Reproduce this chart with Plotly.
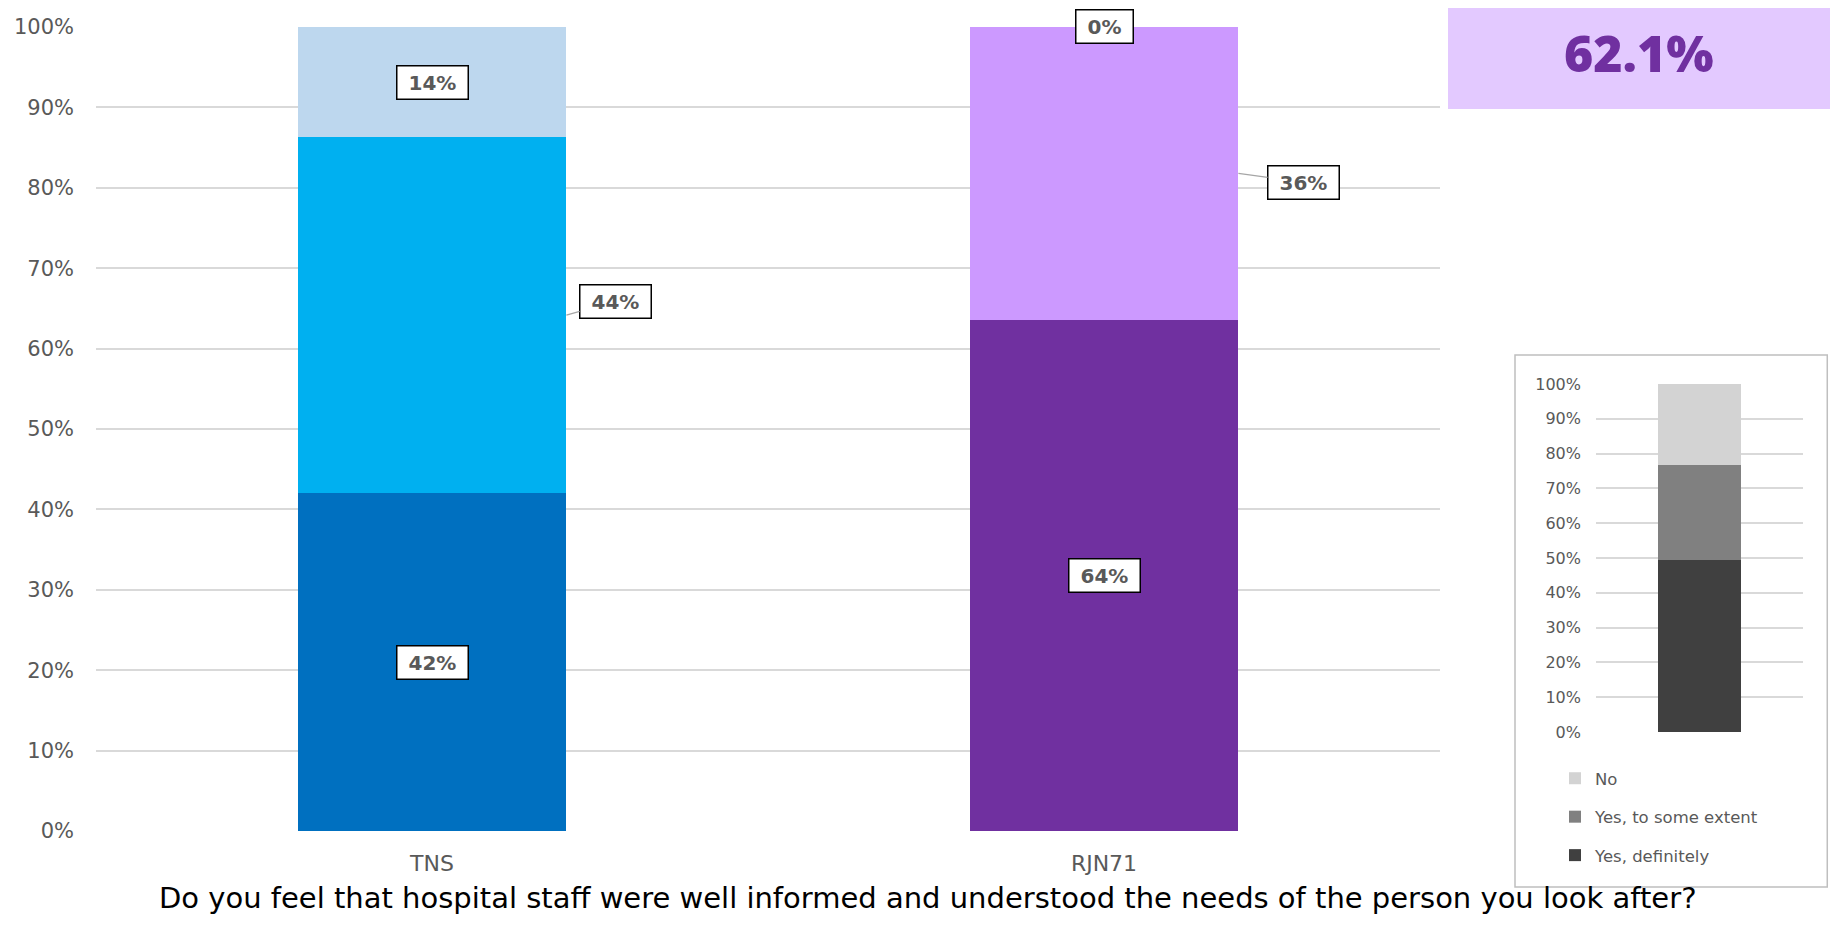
import plotly.graph_objects as go

# ---------------- data ----------------
categories = ["TNS", "RJN71"]
levels = ["Yes, definitely", "Yes, to some extent", "No"]
yes_definitely = [42.0, 63.6]
yes_some_extent = [44.3, 36.4]
no_values = [13.7, 0.0]
main_colors = {
    "Yes, definitely": ["#0070C0", "#7030A0"],
    "Yes, to some extent": ["#00B0F0", "#CC99FF"],
    "No": ["#BDD7EE", "#CC99FF"],
}
overall_values = [49.3, 27.4, 23.3]
overall_colors = ["#404040", "#808080", "#D3D3D3"]
headline = "62.1%"
question = "Do you feel that hospital staff were well informed and understood the needs of the person you look after?"
tick_vals = list(range(0, 101, 10))
tick_text = [f"{v}%" for v in tick_vals]

FONT = "DejaVu Sans"
OFF = 8                      # page body margin
W, H = 1838 - 2 * OFF, 925 - 2 * OFF


def px(x):
    return (x - OFF) / W


def py(y):
    return 1 - (y - OFF) / H


series = {"Yes, definitely": yes_definitely, "Yes, to some extent": yes_some_extent, "No": no_values}
xpos = list(range(len(categories)))

fig = go.Figure()
for lvl in levels:
    fig.add_trace(go.Bar(
        x=xpos, y=series[lvl], width=0.4,
        marker=dict(color=main_colors[lvl], line=dict(width=0)),
        showlegend=False, hoverinfo="skip", xaxis="x", yaxis="y",
    ))

n = len(levels)
for k, (lvl, v, c) in enumerate(zip(levels, overall_values, overall_colors)):
    fig.add_trace(go.Bar(
        x=[0], y=[v], width=0.40, name=lvl, legendgroup=lvl, legendrank=n - k,
        marker=dict(color=c, line=dict(width=0)),
        showlegend=True, hoverinfo="skip", xaxis="x2", yaxis="y2",
    ))

# ---------------- labels ----------------
label_font = dict(family=FONT, size=20, color="#595959", weight="bold")
leader = {0: (49, -14), 1: (65, 9)}
annotations = []
for i, cat in enumerate(categories):
    base = 0.0
    for lvl in levels:
        v = series[lvl][i]
        mid = base + v / 2
        txt = f"&nbsp;{round(v):.0f}%&nbsp;"
        common = dict(xref="x", yref="y", text=txt, font=label_font,
                      bgcolor="white", bordercolor="black", borderwidth=1.5, borderpad=4)
        if lvl == "Yes, to some extent":
            ax, ay = leader[i]
            annotations.append(dict(x=i + 0.2, y=mid, showarrow=True, arrowhead=0,
                                    arrowcolor="#A6A6A6", arrowwidth=1.3, standoff=0,
                                    ax=ax, ay=ay, **common))
        else:
            annotations.append(dict(x=i, y=mid, showarrow=False, **common))
        base += v

annotations.append(dict(xref="paper", yref="paper", x=px(1639), y=py(53),
                        xanchor="center", yanchor="middle",
                        text=headline, showarrow=False,
                        font=dict(family="Open Sans", size=50, color="#7030A0", weight=800)))
annotations.append(dict(xref="paper", yref="paper", x=px(928), y=0.0, yanchor="bottom",
                        xanchor="center", text=question, showarrow=False,
                        font=dict(family=FONT, size=29, color="#000000")))

shapes = [
    dict(type="rect", xref="paper", yref="paper", x0=px(1448), x1=1.01, y0=py(109), y1=1.01,
         fillcolor="#E3C9FF", line=dict(width=0), layer="below"),
    dict(type="rect", xref="paper", yref="paper", x0=px(1515), x1=0.9985, y0=py(887), y1=py(355),
         fillcolor="rgba(0,0,0,0)", line=dict(color="#BFBFBF", width=1.5)),
]

fig.update_layout(
    width=W, height=H, margin=dict(l=0, r=0, t=0, b=0, autoexpand=False),
    paper_bgcolor="white", plot_bgcolor="white",
    barmode="stack", bargap=0,
    font=dict(family=FONT, color="#595959"),
    xaxis=dict(domain=[px(96), px(1440)], range=[-0.5, 1.5], tickvals=xpos, ticktext=categories,
               showgrid=False, zeroline=False, showline=False, ticks="", automargin=False,
               tickfont=dict(size=22, color="#595959"), ticklabelstandoff=17, fixedrange=True),
    yaxis=dict(domain=[py(831), py(27)], range=[0, 100], tickvals=tick_vals, ticktext=tick_text,
               showgrid=True, gridcolor="#D9D9D9", gridwidth=1.5, zeroline=False, showline=False,
               automargin=False, tickfont=dict(size=21, color="#595959"), ticklabelstandoff=21),
    xaxis2=dict(domain=[px(1596), px(1803)], range=[-0.5, 0.5], anchor="y2", showticklabels=False,
                showgrid=False, zeroline=False, showline=False, ticks="", automargin=False),
    yaxis2=dict(domain=[py(732), py(384)], range=[0, 100], anchor="x2", tickvals=tick_vals,
                ticktext=tick_text, showgrid=True, gridcolor="#D9D9D9", gridwidth=1.5,
                zeroline=False, showline=False, automargin=False,
                tickfont=dict(size=16, color="#595959"), ticklabelstandoff=14),
    legend=dict(x=px(1555), y=py(761), xanchor="left", yanchor="top", traceorder="grouped",
                tracegroupgap=14, font=dict(size=16.5, color="#595959"), bgcolor="rgba(0,0,0,0)",
                itemwidth=30),
    shapes=shapes, annotations=annotations,
)

fig.write_html("out.html")
